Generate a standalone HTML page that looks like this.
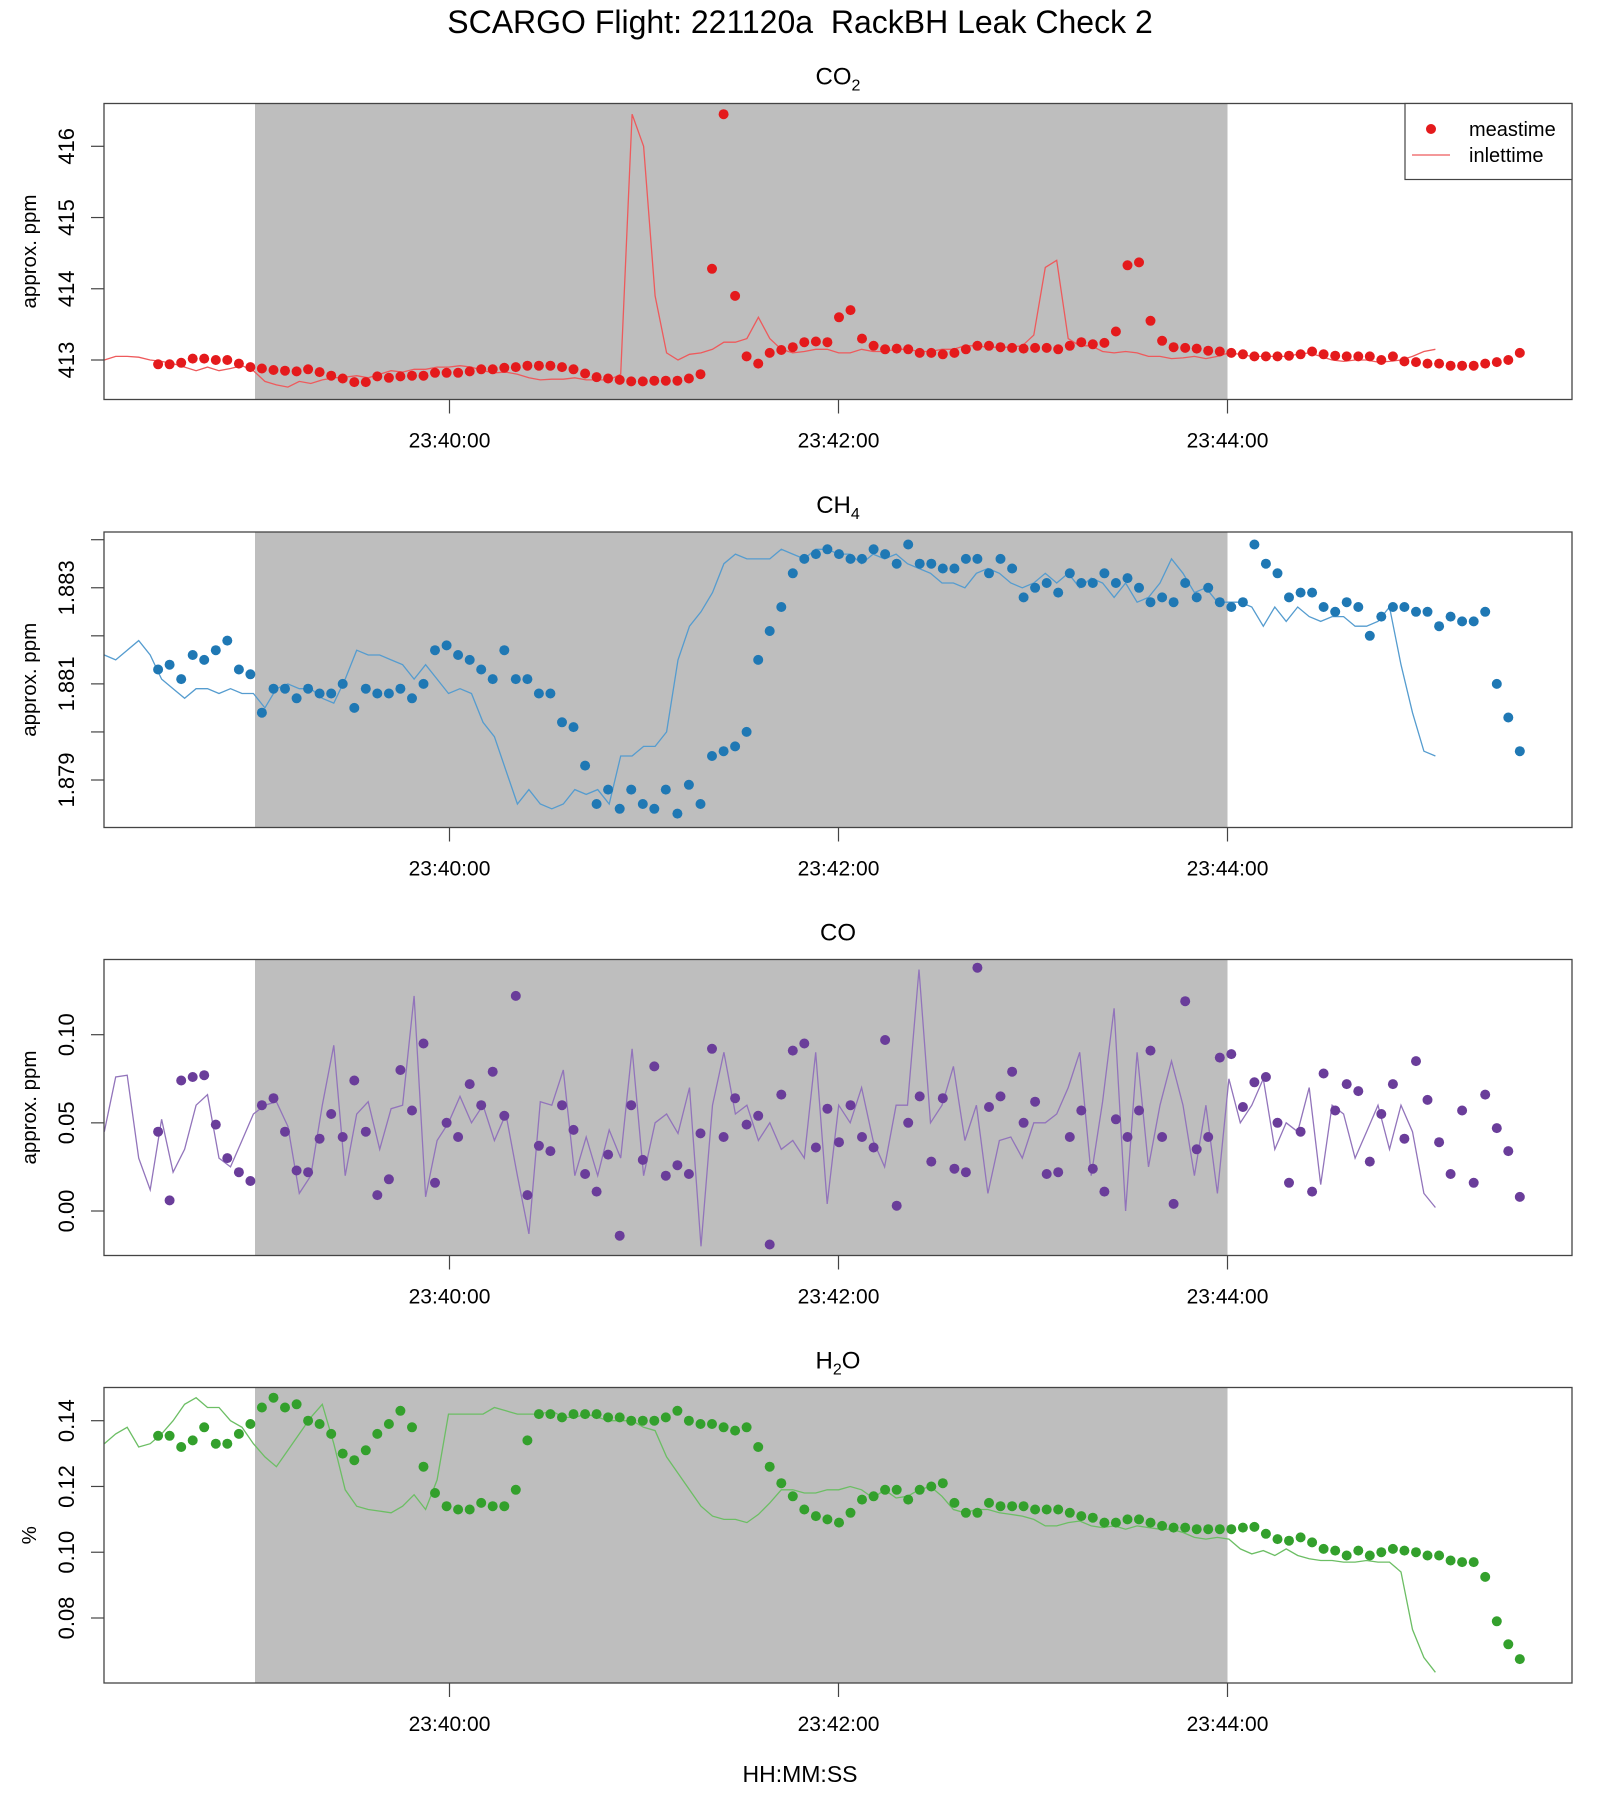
<!DOCTYPE html>
<html><head><meta charset="utf-8"><title>SCARGO Flight: 221120a RackBH Leak Check 2</title>
<style>
html,body{margin:0;padding:0;background:#fff;}
svg{display:block;font-family:"Liberation Sans",Arial,sans-serif;}
</style></head>
<body>
<svg id="chart" width="1600" height="1800" viewBox="0 0 1600 1800" xmlns="http://www.w3.org/2000/svg">
<rect x="0" y="0" width="1600" height="1800" fill="#fff"/>
<text x="800" y="33" text-anchor="middle" font-size="32">SCARGO Flight: 221120a&#160; RackBH Leak Check 2</text>
<text x="800" y="1782" text-anchor="middle" font-size="23">HH:MM:SS</text>
</svg>
<script>
// time axis: seconds relative to 23:40:00
const xTickSeconds = [0, 120, 240];
const xTickLabels = ["23:40:00", "23:42:00", "23:44:00"];
const measStart = -89.9, measStep = 3.56;
const inletStart = -106.5, inletStep = 3.54;
const shadeStart = -60, shadeEnd = 240;

const co2Meas = [412.94,412.94,412.96,413.02,413.02,413.0,413.0,412.95,412.9,412.88,412.86,412.85,412.84,412.87,412.83,412.78,412.74,412.69,412.69,412.77,412.75,412.77,412.78,412.78,412.82,412.82,412.82,412.84,412.87,412.87,412.89,412.9,412.92,412.92,412.92,412.9,412.87,412.81,412.76,412.74,412.72,412.7,412.7,412.71,412.71,412.71,412.74,412.8,414.28,416.45,413.9,413.05,412.95,413.1,413.14,413.18,413.25,413.26,413.25,413.6,413.7,413.3,413.2,413.15,413.16,413.15,413.1,413.1,413.08,413.1,413.15,413.2,413.2,413.18,413.17,413.16,413.17,413.17,413.15,413.2,413.25,413.22,413.24,413.4,414.33,414.37,413.55,413.27,413.18,413.17,413.16,413.13,413.12,413.1,413.08,413.05,413.05,413.05,413.06,413.08,413.12,413.08,413.06,413.05,413.05,413.05,413.0,413.05,412.98,412.97,412.95,412.95,412.92,412.92,412.92,412.95,412.97,413.0,413.1];
const co2Inlet = [413.0,413.05,413.05,413.04,413.0,412.98,412.95,412.9,412.85,412.9,412.85,412.88,412.92,412.85,412.7,412.65,412.62,412.7,412.67,412.72,412.75,412.76,412.78,412.75,412.8,412.85,412.83,412.87,412.87,412.9,412.9,412.92,412.9,412.85,412.82,412.83,412.8,412.75,412.72,412.73,412.73,412.75,412.72,412.72,412.72,412.8,416.45,416.0,413.9,413.1,413.0,413.08,413.1,413.15,413.25,413.25,413.3,413.6,413.3,413.15,413.1,413.12,413.15,413.15,413.1,413.1,413.15,413.12,413.12,413.15,413.15,413.12,413.12,413.15,413.15,413.2,413.2,413.18,413.18,413.18,413.2,413.35,414.3,414.4,413.3,413.2,413.2,413.12,413.1,413.12,413.1,413.05,413.05,413.02,413.03,413.05,413.02,413.05,413.1,413.08,413.05,413.05,413.05,413.05,413.08,413.1,413.05,413.0,412.98,413.0,413.0,412.97,412.98,413.0,413.05,413.12,413.15];

const ch4Meas = [1.8813,1.8814,1.8811,1.8816,1.8815,1.8817,1.8819,1.8813,1.8812,1.8804,1.8809,1.8809,1.8807,1.8809,1.8808,1.8808,1.8810,1.8805,1.8809,1.8808,1.8808,1.8809,1.8807,1.8810,1.8817,1.8818,1.8816,1.8815,1.8813,1.8811,1.8817,1.8811,1.8811,1.8808,1.8808,1.8802,1.8801,1.8793,1.8785,1.8788,1.8784,1.8788,1.8785,1.8784,1.8788,1.8783,1.8789,1.8785,1.8795,1.8796,1.8797,1.8800,1.8815,1.8821,1.8826,1.8833,1.8836,1.8837,1.8838,1.8837,1.8836,1.8836,1.8838,1.8837,1.8835,1.8839,1.8835,1.8835,1.8834,1.8834,1.8836,1.8836,1.8833,1.8836,1.8834,1.8828,1.8830,1.8831,1.8829,1.8833,1.8831,1.8831,1.8833,1.8831,1.8832,1.8830,1.8827,1.8828,1.8827,1.8831,1.8828,1.8830,1.8827,1.8826,1.8827,1.8839,1.8835,1.8833,1.8828,1.8829,1.8829,1.8826,1.8825,1.8827,1.8826,1.8820,1.8824,1.8826,1.8826,1.8825,1.8825,1.8822,1.8824,1.8823,1.8823,1.8825,1.8810,1.8803,1.8796];
const ch4Inlet = [1.8816,1.8815,1.8817,1.8819,1.8816,1.8811,1.8809,1.8807,1.8809,1.8809,1.8808,1.8809,1.8808,1.8808,1.8805,1.8809,1.8810,1.8809,1.8809,1.8807,1.8806,1.8811,1.8817,1.8816,1.8816,1.8815,1.8814,1.8811,1.8814,1.8811,1.8808,1.8809,1.8808,1.8802,1.8799,1.8792,1.8785,1.8788,1.8785,1.8784,1.8785,1.8788,1.8787,1.8788,1.8785,1.8795,1.8795,1.8797,1.8797,1.8800,1.8815,1.8822,1.8825,1.8829,1.8835,1.8837,1.8836,1.8836,1.8836,1.8838,1.8837,1.8836,1.8838,1.8838,1.8837,1.8837,1.8835,1.8837,1.8836,1.8837,1.8835,1.8834,1.8833,1.8831,1.8831,1.8830,1.8833,1.8834,1.8833,1.8831,1.8830,1.8831,1.8833,1.8831,1.8833,1.8830,1.8832,1.8831,1.8828,1.8831,1.8827,1.8828,1.8831,1.8836,1.8833,1.8829,1.8830,1.8827,1.8827,1.8827,1.8826,1.8822,1.8826,1.8823,1.8826,1.8824,1.8823,1.8824,1.8824,1.8822,1.8822,1.8823,1.8826,1.8814,1.8804,1.8796,1.8795];

const coMeas = [0.045,0.006,0.074,0.076,0.077,0.049,0.030,0.022,0.017,0.060,0.064,0.045,0.023,0.022,0.041,0.055,0.042,0.074,0.045,0.009,0.018,0.080,0.057,0.095,0.016,0.050,0.042,0.072,0.060,0.079,0.054,0.122,0.009,0.037,0.034,0.060,0.046,0.021,0.011,0.032,-0.014,0.060,0.029,0.082,0.020,0.026,0.021,0.044,0.092,0.042,0.064,0.049,0.054,-0.019,0.066,0.091,0.095,0.036,0.058,0.039,0.060,0.042,0.036,0.097,0.003,0.050,0.065,0.028,0.064,0.024,0.022,0.138,0.059,0.065,0.079,0.050,0.062,0.021,0.022,0.042,0.057,0.024,0.011,0.052,0.042,0.057,0.091,0.042,0.004,0.119,0.035,0.042,0.087,0.089,0.059,0.073,0.076,0.050,0.016,0.045,0.011,0.078,0.057,0.072,0.068,0.028,0.055,0.072,0.041,0.085,0.063,0.039,0.021,0.057,0.016,0.066,0.047,0.034,0.008];
const coInlet = [0.045,0.076,0.077,0.030,0.012,0.052,0.022,0.035,0.060,0.066,0.030,0.025,0.040,0.055,0.060,0.062,0.048,0.010,0.020,0.060,0.094,0.020,0.055,0.062,0.035,0.058,0.060,0.122,0.008,0.040,0.050,0.065,0.050,0.060,0.040,0.055,0.020,-0.013,0.062,0.060,0.080,0.020,0.042,0.020,0.046,0.030,0.092,0.020,0.050,0.055,0.044,0.070,-0.020,0.060,0.090,0.055,0.060,0.040,0.050,0.035,0.040,0.030,0.090,0.004,0.060,0.050,0.070,0.040,0.025,0.060,0.060,0.137,0.050,0.060,0.082,0.040,0.060,0.010,0.040,0.042,0.030,0.050,0.050,0.055,0.070,0.090,0.020,0.062,0.115,0.000,0.090,0.025,0.060,0.085,0.060,0.020,0.060,0.010,0.075,0.050,0.060,0.075,0.035,0.050,0.045,0.070,0.015,0.060,0.055,0.030,0.045,0.060,0.035,0.060,0.045,0.010,0.002];

const h2oMeas = [0.1354,0.1354,0.132,0.134,0.138,0.133,0.133,0.136,0.139,0.144,0.147,0.144,0.145,0.140,0.139,0.136,0.130,0.128,0.131,0.136,0.139,0.143,0.138,0.126,0.118,0.114,0.113,0.113,0.115,0.114,0.114,0.119,0.134,0.142,0.142,0.141,0.142,0.142,0.142,0.141,0.141,0.140,0.140,0.140,0.141,0.143,0.140,0.139,0.139,0.138,0.137,0.138,0.132,0.126,0.121,0.117,0.113,0.111,0.110,0.109,0.112,0.116,0.117,0.119,0.119,0.116,0.119,0.120,0.121,0.115,0.112,0.112,0.115,0.114,0.114,0.114,0.113,0.113,0.113,0.112,0.111,0.1105,0.109,0.109,0.110,0.110,0.109,0.108,0.1075,0.1075,0.107,0.107,0.107,0.107,0.1075,0.1077,0.1056,0.104,0.1035,0.1045,0.103,0.101,0.1005,0.099,0.1005,0.099,0.100,0.101,0.1005,0.100,0.099,0.099,0.0975,0.097,0.097,0.0925,0.079,0.072,0.0675];
const h2oInlet = [0.133,0.136,0.138,0.132,0.133,0.136,0.140,0.145,0.147,0.144,0.144,0.140,0.138,0.133,0.129,0.126,0.131,0.136,0.141,0.145,0.133,0.119,0.114,0.113,0.1125,0.112,0.114,0.1175,0.113,0.122,0.142,0.142,0.142,0.142,0.144,0.143,0.142,0.142,0.142,0.143,0.141,0.141,0.142,0.141,0.140,0.140,0.140,0.138,0.137,0.129,0.124,0.119,0.114,0.111,0.110,0.110,0.109,0.1115,0.115,0.119,0.119,0.118,0.118,0.119,0.119,0.120,0.119,0.1165,0.119,0.1165,0.117,0.119,0.120,0.117,0.113,0.112,0.113,0.113,0.112,0.1115,0.111,0.110,0.108,0.108,0.109,0.1095,0.108,0.1075,0.108,0.107,0.108,0.1075,0.107,0.107,0.106,0.1045,0.104,0.1045,0.104,0.101,0.0995,0.1005,0.099,0.101,0.099,0.098,0.0975,0.0975,0.097,0.097,0.0975,0.097,0.097,0.094,0.0765,0.068,0.0635];

const co2Ticks = [413, 414, 415, 416];
const co2TickLabels = ["413", "414", "415", "416"];
const ch4Ticks = [1.879, 1.880, 1.881, 1.882, 1.883, 1.884];
const ch4TickLabels = ["1.879", "", "1.881", "", "1.883", ""];
const coTicks = [0.00, 0.05, 0.10];
const coTickLabels = ["0.00", "0.05", "0.10"];
const h2oTicks = [0.08, 0.10, 0.12, 0.14];
const h2oTickLabels = ["0.08", "0.10", "0.12", "0.14"];

const NS = "http://www.w3.org/2000/svg";
const svg = document.getElementById("chart");
const PL = 104, PR = 1572;
function xScale(t) { return 449.5 + t * (389 / 120); }
function mk(tag, attrs, parent) {
  const e = document.createElementNS(NS, tag);
  for (const k in attrs) e.setAttribute(k, attrs[k]);
  (parent || svg).appendChild(e);
  return e;
}

const panels = [
  {key:"co2", title:"CO", sub:"2", after:"", top:103.5, bot:399.5, v0:413, y0:360, v1:416, y1:146.3, ticks:co2Ticks, labels:co2TickLabels, ylab:"approx. ppm", meas:co2Meas, inlet:co2Inlet, col:"#E41A1C", lcol:"#EE5A5C", legend:true},
  {key:"ch4", title:"CH", sub:"4", after:"", top:532, bot:827.5, v0:1.879, y0:780, v1:1.884, y1:539.7, ticks:ch4Ticks, labels:ch4TickLabels, ylab:"approx. ppm", meas:ch4Meas, inlet:ch4Inlet, col:"#1F78B4", lcol:"#559CCF"},
  {key:"co", title:"CO", sub:"", after:"", top:959.5, bot:1255.5, v0:0.0, y0:1211, v1:0.10, y1:1034.7, ticks:coTicks, labels:coTickLabels, ylab:"approx. ppm", meas:coMeas, inlet:coInlet, col:"#6A3D9A", lcol:"#9274BB"},
  {key:"h2o", title:"H", sub:"2", after:"O", top:1387.5, bot:1683, v0:0.08, y0:1618, v1:0.14, y1:1420.7, ticks:h2oTicks, labels:h2oTickLabels, ylab:"%", meas:h2oMeas, inlet:h2oInlet, col:"#33A02C", lcol:"#6CBE64"}
];

panels.forEach(function(p) {
  const g = mk("g", {});
  
  
  const yScale = function(v) { return p.y0 + (v - p.v0) * (p.y1 - p.y0) / (p.v1 - p.v0); };
  const clipId = "clip-" + p.key;
  const cp = mk("clipPath", {id: clipId}, g);
  mk("rect", {x: PL, y: p.top, width: PR - PL, height: p.bot - p.top}, cp);

  const shade = mk("rect", {x: xScale(shadeStart), y: p.top, width: xScale(shadeEnd) - xScale(shadeStart), height: p.bot - p.top, fill: "#BEBEBE"}, g);
  
  

  const pts = p.inlet.map(function(v, i) { return xScale(inletStart + i * inletStep).toFixed(1) + "," + yScale(v).toFixed(1); }).join(" ");
  const line = mk("polyline", {points: pts, fill: "none", stroke: p.lcol, "stroke-width": 1.3, "clip-path": "url(#" + clipId + ")"}, g);
  
  

  const dots = mk("g", {fill: p.col, "clip-path": "url(#" + clipId + ")"}, g);
  
  
  p.meas.forEach(function(v, i) {
    const c = mk("circle", {cx: xScale(measStart + i * measStep).toFixed(1), cy: yScale(v).toFixed(1), r: 5}, dots);
    
    
  });

  const frame = mk("rect", {x: PL, y: p.top, width: PR - PL, height: p.bot - p.top, fill: "none", stroke: "#444", "stroke-width": 1.3}, g);
  
  

  p.ticks.forEach(function(v, i) {
    const y = yScale(v);
    const tk = mk("line", {x1: PL - 13, x2: PL, y1: y, y2: y, stroke: "#444", "stroke-width": 1.2}, g);
    
    
    if (p.labels[i]) {
      const t = mk("text", {x: 0, y: 0, "text-anchor": "middle", "font-size": 22, transform: "translate(74," + y.toFixed(1) + ") rotate(-90)"}, g);
      t.textContent = p.labels[i];
      
      
    }
  });
  const yl = mk("text", {x: 0, y: 0, "text-anchor": "middle", "font-size": 20.5, transform: "translate(36," + ((p.top + p.bot) / 2).toFixed(1) + ") rotate(-90)"}, g);
  yl.textContent = p.ylab;
  
  

  xTickSeconds.forEach(function(s, i) {
    const x = xScale(s);
    const tk = mk("line", {x1: x, x2: x, y1: p.bot, y2: p.bot + 14, stroke: "#444", "stroke-width": 1.2}, g);
    
    
    const t = mk("text", {x: x, y: p.bot + 48, "text-anchor": "middle", "font-size": 21}, g);
    t.textContent = xTickLabels[i];
    
    
  });

  const tt = mk("text", {x: 838, y: p.top - 19, "text-anchor": "middle", "font-size": 24}, g);
  
  
  tt.appendChild(document.createTextNode(p.title));
  if (p.sub) {
    const s = mk("tspan", {"font-size": 16, dy: 6}, tt);
    s.textContent = p.sub;
  }
  if (p.after) {
    const a = mk("tspan", {dy: -6}, tt);
    a.textContent = p.after;
  }

  if (p.legend) {
    const lg = mk("g", {}, g);
    
    
    mk("rect", {x: 1405, y: 103.5, width: 167, height: 76, fill: "#fff", stroke: "#444", "stroke-width": 1.2}, lg);
    const ld = mk("circle", {cx: 1431, cy: 129, r: 5, fill: p.col}, lg);
    
    
    const lt1 = mk("text", {x: 1469, y: 136, "font-size": 20}, lg);
    lt1.textContent = "meastime";
    
    
    const ll = mk("line", {x1: 1412, x2: 1450, y1: 155, y2: 155, stroke: p.lcol, "stroke-width": 1.3}, lg);
    
    
    const lt2 = mk("text", {x: 1469, y: 162, "font-size": 20}, lg);
    lt2.textContent = "inlettime";
    
    
  }
});
</script>
</body></html>
